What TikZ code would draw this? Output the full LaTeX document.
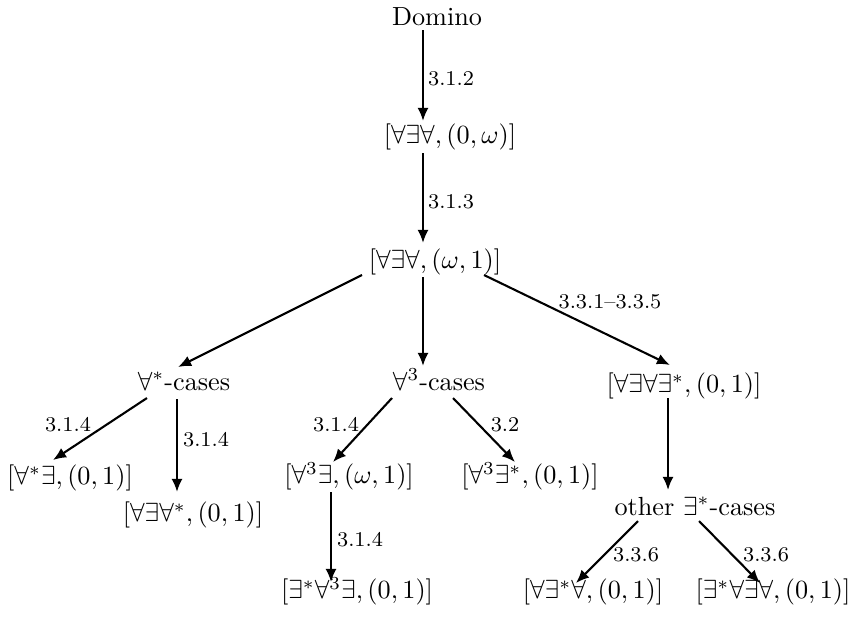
\documentclass[tikz,border=0pt]{standalone}
\usetikzlibrary{arrows.meta,calc}
\begin{document}
\begin{tikzpicture}[x=0.3815pt,y=-0.3815pt,
  every node/.style={inner sep=0pt, text height=7.5pt, text depth=2.5pt},
  lbl/.style={font=\footnotesize, text height=5.3pt, text depth=0pt},
  arr/.style={line width=0.8pt, -{Latex[length=5pt,width=4.2pt]}}]
\useasboundingbox (0,0) rectangle (854,619);
% nodes
\node (dom)   at (437,18.5)  {Domino};
\node (n1)    at (450,137)   {$[\forall\exists\forall,(0,\omega)]$};
\node (n2)    at (435,262)   {$[\forall\exists\forall,(\omega,1)]$};
\node (all)   at (184,383.5) {$\forall^*$-cases};
\node (a3c)   at (439,383.5) {$\forall^3$-cases};
\node (n3)    at (684,386)   {$[\forall\exists\forall\exists^*,(0,1)]$};
\node (aE)    at (70,478)    {$[\forall^*\exists,(0,1)]$};
\node (aEa)   at (193,515)   {$[\forall\exists\forall^*,(0,1)]$};
\node (a3E)   at (349,477)   {$[\forall^3\exists,(\omega,1)]$};
\node (a3Es)  at (530,477)   {$[\forall^3\exists^*,(0,1)]$};
\node (ea3e)  at (357,592)   {$[\exists^*\forall^3\exists,(0,1)]$};
\node (other) at (695,508.5) {other $\exists^*$-cases};
\node (aea)   at (593,592)   {$[\forall\exists^*\forall,(0,1)]$};
\node (eaea)  at (773,592)   {$[\exists^*\forall\exists\forall,(0,1)]$};
% connectors
\draw[arr] ($(dom)+(-14,11.5)$) -- ($(n1)+(-27,-16)$);
\draw[arr] ($(n1)+(-27,16)$) -- ($(n2)+(-12,-19)$);
\draw[arr] ($(n2)+(-73,13)$) -- ($(all)+(-6,-16.5)$);
\draw[arr] ($(n2)+(-12,15)$) -- ($(a3c)+(-16,-17.5)$);
\draw[arr] ($(n2)+(49,13)$) -- ($(n3)+(-14,-21)$);
\draw[arr] ($(all)+(-37,14.5)$) -- ($(aE)+(-17,-18)$);
\draw[arr] ($(all)+(-7,15.5)$) -- ($(aEa)+(-16,-23)$);
\draw[arr] ($(a3c)+(-47,14.5)$) -- ($(a3E)+(-16,-15)$);
\draw[arr] ($(a3c)+(14,14.5)$) -- ($(a3Es)+(-15,-15)$);
\draw[arr] ($(a3E)+(-18,15)$) -- ($(ea3e)+(-26,-10)$);
\draw[arr] ($(n3)+(-16,12)$) -- ($(other)+(-27,-18.5)$);
\draw[arr] ($(other)+(-57,12.5)$) -- ($(aea)+(-17,-9)$);
\draw[arr] ($(other)+(4,12.5)$) -- ($(eaea)+(-13,-9)$);
% labels
\node[lbl] (l1)  at (451,79)  {3.1.2};
\node[lbl] (l2)  at (451,202) {3.1.3};
\node[lbl] (l3)  at (610,302) {3.3.1--3.3.5};
\node[lbl] (l4)  at (68,425)  {3.1.4};
\node[lbl] (l5)  at (206,440) {3.1.4};
\node[lbl] (l6)  at (336,425) {3.1.4};
\node[lbl] (l7)  at (505,425) {3.2};
\node[lbl] (l8)  at (360,540) {3.1.4};
\node[lbl] (l9)  at (636,555) {3.3.6};
\node[lbl] (l10) at (766,555) {3.3.6};
\end{tikzpicture}
\end{document}
